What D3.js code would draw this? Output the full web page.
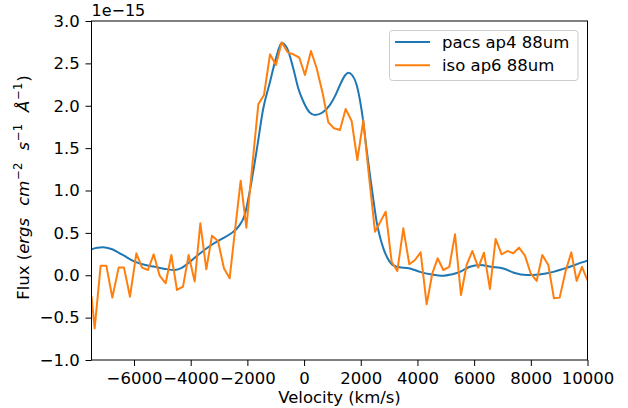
<!DOCTYPE html>
<html>
<head>
<meta charset="utf-8">
<script src="https://cdn.jsdelivr.net/npm/d3@7"></script>
<style>
  body { margin: 0; background: #fff; }
  svg text { font-family: "DejaVu Sans", sans-serif; fill: #000; }
</style>
</head>
<body>
<div id="chart"></div>
<script>
// Velocity in km/s, flux in units of 1e-15 ergs cm^-2 s^-1 A^-1
var pacsVel = [-7600, -7500, -7300, -7094, -6800, -6400, -5976, -5600, -5270, -4900, -4565, -4300,
  -4095, -3700, -3274, -2900, -2568, -2300, -2095, -1900, -1660, -1450, -1203, -1000, -790, -600,
  -380, -200, -27, 200, 385, 650, 914, 1100, 1267, 1450, 1560, 1700, 1856, 1980, 2090, 2200, 2325,
  2450, 2560, 2680, 2795, 3000, 3267, 3737, 4090, 4500, 4912, 5200, 5500, 5850, 6206, 6600, 7030,
  7400, 7853, 8300, 8794, 9100, 9382, 9700, 9970, 10100];
var pacsFlux = [0.29, 0.306, 0.325, 0.33, 0.31, 0.24, 0.16, 0.12, 0.10, 0.075, 0.062, 0.09,
  0.14, 0.25, 0.357, 0.43, 0.495, 0.58, 0.71, 1.02, 1.5, 1.95, 2.28, 2.55, 2.74, 2.68,
  2.44, 2.2, 2.05, 1.92, 1.89, 1.92, 2.01, 2.12, 2.245, 2.36, 2.39, 2.36, 2.245, 2.05, 1.81, 1.5, 1.18,
  0.88, 0.63, 0.45, 0.32, 0.17, 0.1, 0.08, 0.04, 0.01, -0.005, 0.01, 0.04, 0.1, 0.12, 0.1, 0.08,
  0.03, 0.003, 0.01, 0.04, 0.07, 0.1, 0.14, 0.17, 0.19];

var isoVel = [-7500, -7388, -7177, -6977, -6765, -6542, -6353, -6142, -5918, -5718, -5507, -5307,
  -5095, -4883, -4683, -4484, -4272, -4072, -3860, -3660, -3449, -3249, -3037, -2825, -2626, -2430,
  -2237, -2037, -1825, -1614, -1414, -1202, -991, -791, -579, -379, -168, 32, 244, 444, 656, 856,
  1056, 1267, 1467, 1679, 1879, 2090, 2290, 2502, 2690, 2878, 3090, 3290, 3502, 3713, 3913, 4113,
  4325, 4525, 4713, 4913, 5125, 5325, 5536, 5736, 5936, 6148, 6348, 6559, 6759, 6971, 7171, 7383,
  7582, 7794, 7994, 8206, 8406, 8617, 8817, 9017, 9229, 9429, 9617, 9805, 10000];
var isoFlux = [-0.25, -0.626, 0.113, 0.113, -0.264, 0.09, 0.09, -0.253, 0.259, 0.09, 0.062, 0.247,
  -0.005, -0.095, 0.239, -0.174, -0.134, 0.239, -0.075, 0.613, 0.07, 0.467, 0.404, 0.08, -0.036, 0.55,
  1.116, 0.561, 1.3, 2.017, 2.127, 2.607, 2.481, 2.748, 2.63, 2.607, 2.567, 2.363, 2.646, 2.442, 2.147, 1.804,
  1.734, 1.714, 1.962, 1.82, 1.36, 1.828, 1.17, 0.514, 0.63, 0.75, 0.16, 0.05, 0.554, 0.129, 0.18, 0.27,
  -0.343, 0.023, 0.20, 0.062, 0.1, 0.483, -0.233, 0.121, 0.286, 0.09, 0.266, -0.162, 0.428, 0.247, 0.286, 0.259,
  0.326, 0.231, 0.023, -0.067, 0.239, 0.121, -0.272, -0.264, 0.05, 0.27, -0.067, 0.1, -0.06];

var xTicks = [-6000, -4000, -2000, 0, 2000, 4000, 6000, 8000, 10000];
var yTicks = [-1.0, -0.5, 0.0, 0.5, 1.0, 1.5, 2.0, 2.5, 3.0];
var seriesNames = ["pacs ap4 88um", "iso ap6 88um"];
var seriesColors = ["#1f77b4", "#ff7f0e"];

var width = 628, height = 408;
var margin = { left: 91.5, right: 40.5, top: 21, bottom: 48 };
var fs = 16.5;

var svg = d3.select('#chart').append('svg')
  .attr('width', width).attr('height', height);

var x = d3.scaleLinear().domain([-7500, 10000]).range([margin.left, width - margin.right]);
var y = d3.scaleLinear().domain([-1.0, 3.0]).range([height - margin.bottom, margin.top]);

svg.append('clipPath').attr('id', 'clip').append('rect')
  .attr('x', x.range()[0]).attr('y', y.range()[1])
  .attr('width', x.range()[1] - x.range()[0]).attr('height', y.range()[0] - y.range()[1]);

var pacs = pacsVel.map(function (v, i) { return [v, pacsFlux[i]]; });
var iso = isoVel.map(function (v, i) { return [v, isoFlux[i]]; });

var smooth = d3.line().x(function (d) { return x(d[0]); }).y(function (d) { return y(d[1]); })
  .curve(d3.curveMonotoneX);
var straight = d3.line().x(function (d) { return x(d[0]); }).y(function (d) { return y(d[1]); });

var plot = svg.append('g').attr('clip-path', 'url(#clip)');
plot.append('path').attr('d', smooth(pacs)).attr('fill', 'none')
  .attr('stroke', seriesColors[0]).attr('stroke-width', 2).attr('stroke-linejoin', 'round');
plot.append('path').attr('d', straight(iso)).attr('fill', 'none')
  .attr('stroke', seriesColors[1]).attr('stroke-width', 2).attr('stroke-linejoin', 'round');

// axes
var xAxis = svg.append('g').attr('transform', 'translate(0,' + y.range()[0] + ')')
  .call(d3.axisBottom(x).tickValues(xTicks).tickSizeOuter(0).tickSize(6).tickPadding(5.8)
    .tickFormat(d3.format('d')));
var yAxis = svg.append('g').attr('transform', 'translate(' + x.range()[0] + ',0)')
  .call(d3.axisLeft(y).tickValues(yTicks).tickSizeOuter(0).tickSize(6).tickPadding(5.8)
    .tickFormat(d3.format('.1f')));
[xAxis, yAxis].forEach(function (a) {
  a.selectAll('text').attr('font-size', fs).attr('font-family', '"DejaVu Sans", sans-serif');
  a.select('.domain').remove();
  a.selectAll('line').attr('stroke', '#000').attr('stroke-width', 1);
});

// frame
svg.append('rect')
  .attr('x', x.range()[0]).attr('y', y.range()[1])
  .attr('width', x.range()[1] - x.range()[0]).attr('height', y.range()[0] - y.range()[1])
  .attr('fill', 'none').attr('stroke', '#000').attr('stroke-width', 1);

// offset text
svg.append('text').attr('x', x.range()[0]).attr('y', 16).attr('font-size', 16).text('1e\u221215');

// axis labels
svg.append('text').attr('x', (x.range()[0] + x.range()[1]) / 2).attr('y', 403)
  .attr('text-anchor', 'middle').attr('font-size', fs).text('Velocity (km/s)');

var sup = fs * 0.7;
var yl = svg.append('text')
  .attr('transform', 'translate(28.5,' + ((y.range()[0] + y.range()[1]) / 2 - 3) + ') rotate(-90)')
  .attr('text-anchor', 'middle').attr('font-size', fs);
yl.append('tspan').text('Flux (');
yl.append('tspan').attr('font-style', 'italic').text('ergs');
yl.append('tspan').attr('font-style', 'italic').attr('dx', 12).text('cm');
yl.append('tspan').attr('font-size', sup).attr('dy', -7).attr('dx', 1).text('\u22122');
yl.append('tspan').attr('font-style', 'italic').attr('dy', 7).attr('dx', 12).text('s');
yl.append('tspan').attr('font-size', sup).attr('dy', -7).attr('dx', 1).text('\u22121');
yl.append('tspan').attr('font-style', 'italic').attr('dy', 7).attr('dx', 12).text('\u00c5');
yl.append('tspan').attr('font-size', sup).attr('dy', -7).attr('dx', 1).text('\u22121');
yl.append('tspan').attr('dy', 7).attr('dx', 1).text(')');

// legend
var lg = svg.append('g');
lg.append('rect').attr('x', 389.5).attr('y', 30.5).attr('width', 188.5).attr('height', 50)
  .attr('rx', 3).attr('fill', '#fff').attr('fill-opacity', 0.8)
  .attr('stroke', '#ccc').attr('stroke-width', 1);
seriesNames.forEach(function (name, i) {
  var yy = 42 + i * 23.3;
  lg.append('line').attr('x1', 395).attr('x2', 430).attr('y1', yy).attr('y2', yy)
    .attr('stroke', seriesColors[i]).attr('stroke-width', 2);
  lg.append('text').attr('x', 442).attr('y', yy + 6).attr('font-size', fs).text(name);
});
</script>
</body>
</html>
